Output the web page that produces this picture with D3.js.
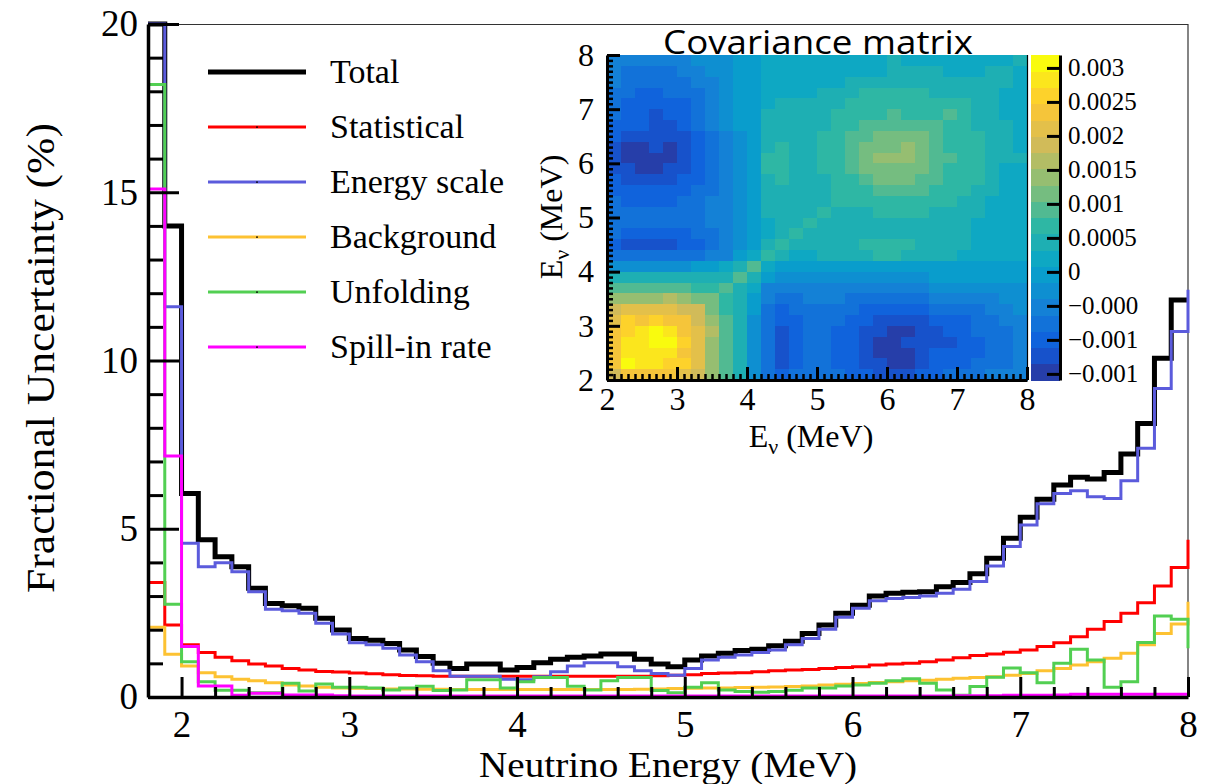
<!DOCTYPE html>
<html>
<head>
<meta charset="utf-8">
<script src="https://cdn.jsdelivr.net/npm/d3@7"></script>
<style>
  body { margin: 0; background: #fff; }
  svg { display: block; }
  svg text { font-family: "Liberation Serif", "DejaVu Serif", serif; }
  svg text.sans { font-family: "Open Sans", "Noto Sans", sans-serif; }
</style>
</head>
<body>
<div id="chart-area"></div>
<script>
// Data
// ****
// histogram bins of 0.1 MeV starting at 1.8 MeV; the 63rd bin (8.0-8.1) only shows as the step at the frame edge
const binStart = 1.8, binWidth = 0.1

const seriesNames = ["Total", "Statistical", "Energy scale", "Background", "Unfolding", "Spill-in rate"]

const totalUnc = [21, 14.0, 6.05, 4.67, 4.17, 3.87, 3.23, 2.78, 2.71, 2.64, 2.34, 1.99, 1.74, 1.69, 1.59, 1.40,
  1.20, 1.00, 0.85, 0.98, 0.98, 0.80, 0.88, 1.02, 1.12, 1.18, 1.22, 1.28, 1.28, 1.12, 0.98, 0.90,
  1.10, 1.22, 1.30, 1.38, 1.42, 1.52, 1.66, 1.89, 2.14, 2.49, 2.73, 3.00, 3.08, 3.11, 3.13, 3.28,
  3.40, 3.66, 4.12, 4.72, 5.34, 5.88, 6.30, 6.53, 6.48, 6.67, 7.22, 8.13, 10.07, 11.8, 11.8]

const statUnc = [3.40, 2.14, 1.55, 1.32, 1.18, 1.08, 0.98, 0.92, 0.85, 0.80, 0.76, 0.74, 0.71, 0.69, 0.66, 0.64,
  0.63, 0.62, 0.62, 0.62, 0.62, 0.62, 0.62, 0.62, 0.62, 0.62, 0.62, 0.62, 0.62, 0.62, 0.63, 0.65,
  0.66, 0.70, 0.71, 0.72, 0.75, 0.78, 0.80, 0.82, 0.85, 0.88, 0.90, 0.95, 0.98, 1.00, 1.05, 1.10,
  1.17, 1.23, 1.28, 1.33, 1.40, 1.50, 1.61, 1.79, 2.01, 2.24, 2.49, 2.80, 3.30, 3.85, 4.67]

const escaleUnc = [21, 11.6, 4.57, 3.87, 3.99, 3.72, 3.13, 2.61, 2.56, 2.49, 2.19, 1.87, 1.61, 1.55, 1.45, 1.25,
  1.05, 0.78, 0.62, 0.62, 0.62, 0.53, 0.51, 0.60, 0.75, 0.92, 1.02, 1.02, 0.90, 0.78, 0.70, 0.65,
  0.85, 1.10, 1.18, 1.25, 1.32, 1.40, 1.55, 1.74, 2.01, 2.37, 2.64, 2.86, 2.93, 2.96, 3.00, 3.08,
  3.20, 3.43, 3.89, 4.47, 5.11, 5.74, 6.05, 6.13, 5.95, 5.90, 6.43, 7.39, 9.17, 10.86, 12.1]

const bkgUnc = [2.07, 1.27, 0.92, 0.72, 0.60, 0.53, 0.48, 0.42, 0.36, 0.33, 0.29, 0.27, 0.26, 0.25, 0.24, 0.24,
  0.23, 0.23, 0.22, 0.22, 0.22, 0.22, 0.22, 0.22, 0.22, 0.22, 0.22, 0.22, 0.22, 0.23, 0.24, 0.25,
  0.26, 0.27, 0.27, 0.28, 0.29, 0.30, 0.31, 0.33, 0.36, 0.38, 0.40, 0.43, 0.45, 0.48, 0.50, 0.53,
  0.56, 0.58, 0.60, 0.65, 0.70, 0.78, 0.85, 0.95, 1.05, 1.15, 1.30, 1.55, 1.89, 2.17, 2.83]

const unfoldUnc = [18.2, 2.76, 1.05, 0.45, 0.20, 0.20, 0.13, 0.13, 0.41, 0.18, 0.39, 0.29, 0.29, 0.27, 0.21, 0.27,
  0.32, 0.19, 0.21, 0.51, 0.51, 0.27, 0.45, 0.58, 0.58, 0.32, 0.21, 0.48, 0.58, 0.58, 0.19, 0.13,
  0.29, 0.42, 0.21, 0.16, 0.14, 0.16, 0.20, 0.27, 0.27, 0.33, 0.36, 0.41, 0.48, 0.54, 0.41, 0.21,
  0.05, 0.31, 0.59, 0.86, 0.72, 0.42, 1.00, 1.42, 1.10, 0.29, 0.45, 1.62, 2.41, 2.31, 1.45]

const spillUnc = [15.1, 7.16, 1.50, 0.33, 0.33, 0.05, 0.11, 0.11, 0.06, 0.06, 0.06, 0.04, 0.03, 0.03, 0.03, 0.03,
  0.03, 0.03, 0.03, 0.03, 0.03, 0.03, 0.03, 0.03, 0.03, 0.03, 0.03, 0.03, 0.03, 0.03, 0.03, 0.03,
  0.03, 0.03, 0.03, 0.03, 0.03, 0.03, 0.03, 0.03, 0.03, 0.03, 0.03, 0.03, 0.03, 0.03, 0.03, 0.03,
  0.04, 0.04, 0.04, 0.05, 0.05, 0.05, 0.06, 0.08, 0.08, 0.08, 0.08, 0.08, 0.08, 0.08, 0.05]

const yMajor = [0, 5, 10, 15, 20]
const xMajor = [2, 3, 4, 5, 6, 7, 8]

// covariance matrix, 0.2 MeV cells, rows from E=8 (top) down to E=2, colour band index 0..j (base 20)
const covRows = [
  "4444445556" + "67777777778777777778",
  "4333344556" + "67777777778888777887",
  "4333334456" + "67777778888888888887",
  "3322333456" + "67777888999998888877",
  "3222223456" + "67888889999999998877",
  "3221223456" + "6888889999a999a98877",
  "2221123456" + "68888899aaaaaa998887",
  "2111112345" + "6888899aabbbba999887",
  "1001012345" + "6898899abbbcba999887",
  "1000012345" + "6998899abcccbaa99888",
  "1100112345" + "6998899abbbbba999877",
  "2111122345" + "68988899abbbaa999877",
  "2222223345" + "688888999aaaa9998877",
  "3222233445" + "68888899999999988777",
  "3333333445" + "68888988899998888777",
  "3333333445" + "67889888888888887777",
  "3222223345" + "67898888888888887777",
  "2111122345" + "68988888999988887777",
  "3333333446" + "79877888899888877777",
  "5555556678" + "a7666666666666666666",
  "888888888a" + "86555555555556666666",
  "aaaaaa99a8" + "74444444444445555555",
  "ccccdcbb98" + "64334443333334444455",
  "effffeeb98" + "63233333222223333445",
  "fhghggeca8" + "53223332211112223344",
  "ghijigfda8" + "53123322110011223334",
  "giijjhfca8" + "53123322100111122334",
  "giiiigfca8" + "53123322100012222334",
  "gjiihhfca8" + "53123322110012223334",
  "eggggfeca8" + "53233332211122333444"
]
const covMin = -0.00159, covMax = 0.00319, covBands = 20
const covCell = 0.2
const cbTicks = [0.003, 0.0025, 0.002, 0.0015, 0.001, 0.0005, 0, -0.0005, -0.001, -0.0015]
const cbTickLabels = ["0.003", "0.0025", "0.002", "0.0015", "0.001", "0.0005", "0", "\u22120.000", "\u22120.001", "\u22120.001"]

// Config
// ******
const width = 1212, height = 784
const frame = {left: 148, right: 1188, top: 24, bottom: 697}
const inset = {left: 607, right: 1027, top: 55, bottom: 380}
const cbar = {left: 1031, right: 1060}

const seriesColors = ["#000000", "#ff0000", "#5b5bdc", "#fdc232", "#52cf52", "#ff00ff"]
const seriesWidths = [5, 3, 3, 3, 3, 3]
const seriesValues = [totalUnc, statUnc, escaleUnc, bkgUnc, unfoldUnc, spillUnc]

// ROOT kBird palette
const birdStops = [0, 0.125, 0.25, 0.375, 0.5, 0.625, 0.75, 0.875, 1]
const birdColors = ["rgb(53,42,135)", "rgb(15,92,221)", "rgb(20,129,214)", "rgb(6,164,202)",
  "rgb(46,183,164)", "rgb(135,191,119)", "rgb(209,187,89)", "rgb(254,200,50)", "rgb(249,251,14)"]
const bird = d3.scaleLinear().domain(birdStops).range(birdColors).interpolate(d3.interpolateRgb)
const bandColors = d3.range(covBands).map(l => bird((l + 0.99) / covBands))
const covColor = d3.scaleQuantize().domain([covMin, covMax]).range(bandColors)
const covStep = (covMax - covMin) / covBands

const svg = d3.select("#chart-area")
  .append("svg")
    .attr("width", width)
    .attr("height", height)

const x = d3.scaleLinear().domain([1.8, 8]).range([frame.left, frame.right])
const y = d3.scaleLinear().domain([0, 20]).range([frame.bottom, frame.top])
const intFmt = d3.format("d")

// Frame
// *****
svg.append("line").attr("x1", frame.left).attr("x2", frame.right).attr("y1", frame.top + 0.5).attr("y2", frame.top + 0.5)
  .attr("stroke", "#333").attr("stroke-width", 1.2)
svg.append("line").attr("x1", frame.right).attr("x2", frame.right).attr("y1", frame.top).attr("y2", frame.bottom)
  .attr("stroke", "#333").attr("stroke-width", 1.2)

// Histograms
// **********
const step = d3.line()
  .x((d, i) => x(binStart + i * binWidth))
  .y(d => y(Math.min(d, 20)))
  .curve(d3.curveStepAfter)

seriesValues.forEach((vals, s) => {
  svg.append("path")
    .attr("d", step(vals))
    .attr("fill", "none")
    .attr("stroke", seriesColors[s])
    .attr("stroke-width", seriesWidths[s])
})

// Axes
// ****
function styleAxis(g, size) {
  g.attr("font-size", size)
  g.selectAll("line").attr("stroke", "#000").attr("stroke-width", 3)
  g.selectAll("text").attr("fill", "#000")
  g.select(".domain").attr("stroke", "#000").attr("stroke-width", 3.5)
}

const yAxisG = svg.append("g").attr("transform", "translate(" + frame.left + ",0)")
  .call(d3.axisLeft(y).tickValues(yMajor).tickFormat(intFmt).tickSize(-31).tickSizeOuter(0).tickPadding(10))
styleAxis(yAxisG, 37)
const yMinorG = svg.append("g").attr("transform", "translate(" + frame.left + ",0)")
  .call(d3.axisLeft(y).tickValues(d3.range(1, 20).filter(v => v % 5)).tickSize(-15).tickFormat(""))
yMinorG.select(".domain").remove()
styleAxis(yMinorG, 10)

const xAxisG = svg.append("g").attr("transform", "translate(0," + frame.bottom + ")")
  .call(d3.axisBottom(x).tickValues(xMajor).tickFormat(intFmt).tickSize(-20).tickSizeOuter(0).tickPadding(14))
styleAxis(xAxisG, 37)
const xMinorG = svg.append("g").attr("transform", "translate(0," + frame.bottom + ")")
  .call(d3.axisBottom(x).tickValues(d3.range(11, 40).filter(v => v % 5).map(v => v / 5)).tickSize(-10).tickFormat(""))
xMinorG.select(".domain").remove()
styleAxis(xMinorG, 10)

svg.append("text")
  .attr("x", (frame.left + frame.right) / 2)
  .attr("y", 777)
  .attr("text-anchor", "middle")
  .attr("font-size", 36)
  .attr("textLength", 378)
  .attr("lengthAdjust", "spacingAndGlyphs")
  .text("Neutrino Energy (MeV)")

svg.append("text")
  .attr("transform", "translate(54,358) rotate(-90)")
  .attr("text-anchor", "middle")
  .attr("font-size", 41)
  .attr("textLength", 470)
  .attr("lengthAdjust", "spacingAndGlyphs")
  .text("Fractional Uncertainty (%)")

// Legend
// ******
const legend = svg.append("g")
seriesNames.forEach((name, i) => {
  const ly = 72 + i * 55
  legend.append("line")
    .attr("x1", 208).attr("x2", 306).attr("y1", ly).attr("y2", ly)
    .attr("stroke", seriesColors[i]).attr("stroke-width", seriesWidths[i])
  if (i > 0) legend.append("rect")
    .attr("x", 256).attr("y", ly - 0.5).attr("width", 2).attr("height", 1.2)
    .attr("fill", "#000")
  legend.append("text")
    .attr("x", 330).attr("y", ly + 11)
    .attr("font-size", 34)
    .text(name)
})

// Inset: covariance matrix
// ************************
const xIn = d3.scaleLinear().domain([2, 8]).range([inset.left, inset.right])
const yIn = d3.scaleLinear().domain([2, 8]).range([inset.bottom, inset.top])
const cbY = d3.scaleLinear().domain([covMin, covMax]).range([inset.bottom, inset.top])

const cells = []
covRows.forEach((row, r) => {
  row.split("").forEach((ch, c) => {
    const band = parseInt(ch, 20)
    cells.push({ex: 2 + c * covCell, ey: 8 - (r + 1) * covCell, value: covMin + (band + 0.5) * covStep})
  })
})

svg.append("g").selectAll("rect").data(cells).enter().append("rect")
  .attr("x", d => xIn(d.ex))
  .attr("y", d => yIn(d.ey + covCell))
  .attr("width", d => xIn(d.ex + covCell) - xIn(d.ex) + 0.6)
  .attr("height", d => yIn(d.ey) - yIn(d.ey + covCell) + 0.6)
  .attr("fill", d => covColor(d.value))
  .attr("shape-rendering", "crispEdges")

svg.append("line").attr("x1", inset.right + 0.5).attr("x2", inset.right + 0.5).attr("y1", inset.top).attr("y2", inset.bottom)
  .attr("stroke", "#000").attr("stroke-width", 1.2)

// colour bar
svg.append("g").selectAll("rect").data(d3.range(covBands)).enter().append("rect")
  .attr("x", cbar.left)
  .attr("y", l => cbY(covMin + (l + 1) * covStep))
  .attr("width", cbar.right - cbar.left)
  .attr("height", l => cbY(covMin + l * covStep) - cbY(covMin + (l + 1) * covStep) + 0.5)
  .attr("fill", l => covColor(covMin + (l + 0.5) * covStep))
  .attr("shape-rendering", "crispEdges")

const cbAxisG = svg.append("g").attr("transform", "translate(" + cbar.right + ",0)")
  .call(d3.axisRight(cbY).tickValues(cbTicks).tickSize(-13).tickSizeOuter(0).tickPadding(8)
    .tickFormat((d, i) => cbTickLabels[i]))
styleAxis(cbAxisG, 25)
cbAxisG.select(".domain").attr("stroke-width", 3)

const inYG = svg.append("g").attr("transform", "translate(" + inset.left + ",0)")
  .call(d3.axisLeft(yIn).tickValues(xMajor).tickFormat(intFmt).tickSize(-13).tickSizeOuter(0).tickPadding(13))
styleAxis(inYG, 32)
inYG.select(".domain").attr("stroke-width", 3)
const inYMinor = svg.append("g").attr("transform", "translate(" + inset.left + ",0)")
  .call(d3.axisLeft(yIn).tickValues(d3.range(21, 80).filter(v => v % 10).map(v => v / 10)).tickSize(-6).tickFormat(""))
inYMinor.select(".domain").remove()
styleAxis(inYMinor, 10)
inYMinor.selectAll("line").attr("stroke-width", 2.5)

const inXG = svg.append("g").attr("transform", "translate(0," + inset.bottom + ")")
  .call(d3.axisBottom(xIn).tickValues(xMajor).tickFormat(intFmt).tickSize(-13).tickSizeOuter(0).tickPadding(7))
styleAxis(inXG, 32)
inXG.select(".domain").attr("stroke-width", 3)
const inXMinor = svg.append("g").attr("transform", "translate(0," + inset.bottom + ")")
  .call(d3.axisBottom(xIn).tickValues(d3.range(21, 80).filter(v => v % 10).map(v => v / 10)).tickSize(-6).tickFormat(""))
inXMinor.select(".domain").remove()
styleAxis(inXMinor, 10)
inXMinor.selectAll("line").attr("stroke-width", 2.5)

// inset axis titles: E with subscript nu
const xTitle = svg.append("text")
  .attr("x", 811).attr("y", 447)
  .attr("text-anchor", "middle")
  .attr("font-size", 32)
xTitle.append("tspan").text("E")
xTitle.append("tspan").attr("dy", 7).attr("font-size", 22).text("\u03bd")
xTitle.append("tspan").attr("dy", -7).text(" (MeV)")

const yTitle = svg.append("text")
  .attr("transform", "translate(562,217) rotate(-90)")
  .attr("text-anchor", "middle")
  .attr("font-size", 32)
yTitle.append("tspan").text("E")
yTitle.append("tspan").attr("dy", 7).attr("font-size", 22).text("\u03bd")
yTitle.append("tspan").attr("dy", -7).text(" (MeV)")

svg.append("text")
  .attr("class", "sans")
  .attr("x", 818).attr("y", 54)
  .attr("text-anchor", "middle")
  .attr("font-size", 32)
  .attr("textLength", 310)
  .attr("lengthAdjust", "spacingAndGlyphs")
  .text("Covariance matrix")
</script>
</body>
</html>
